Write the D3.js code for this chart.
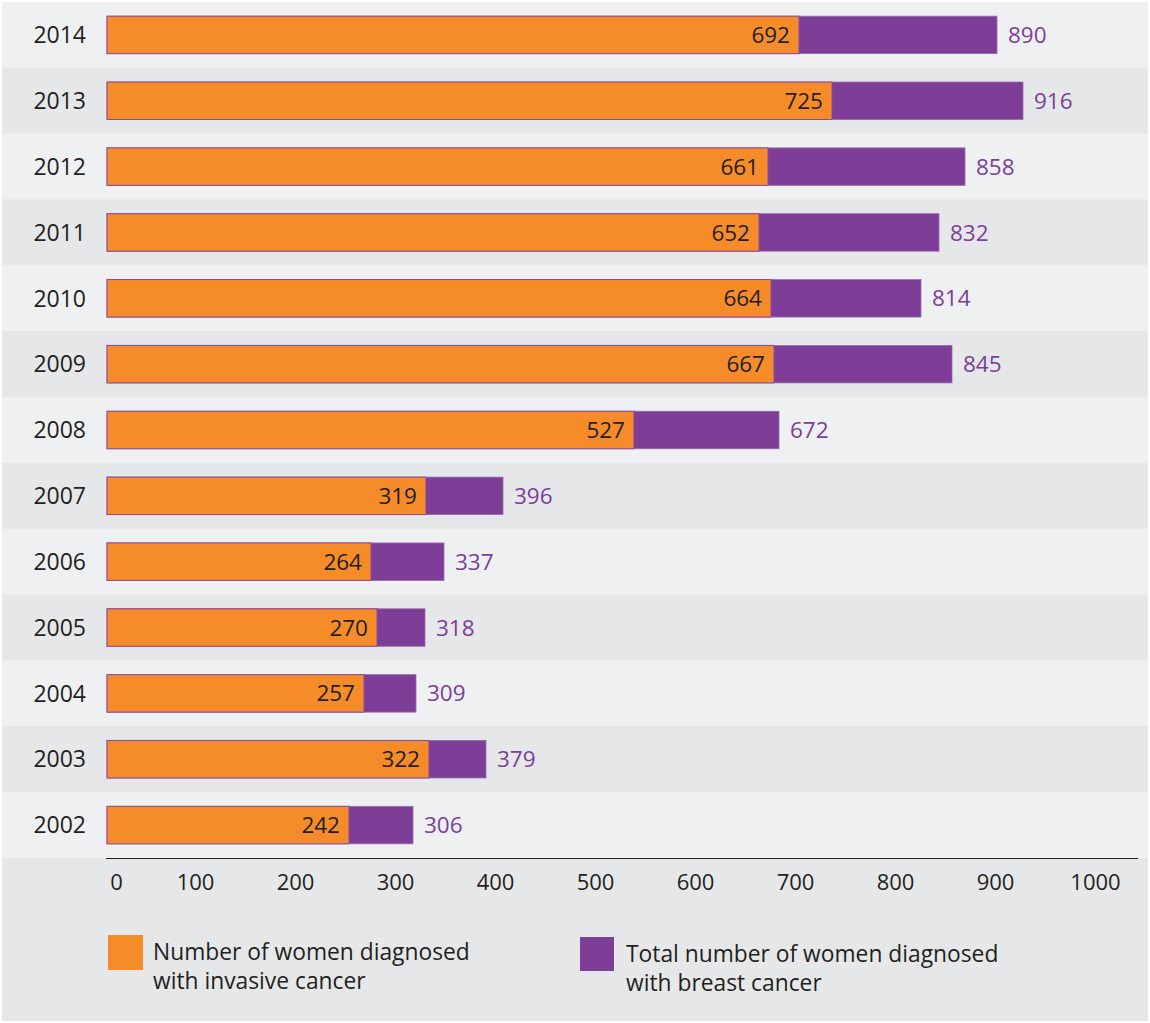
<!DOCTYPE html>
<html>
<head>
<meta charset="utf-8">
<script src="https://cdn.jsdelivr.net/npm/d3@7"></script>
<style>
  body { margin: 0; background: #ffffff; }
  svg text { font-family: "Open Sans", "Noto Sans", sans-serif; }
</style>
</head>
<body>
<svg id="chart" width="1150" height="1023"></svg>
<script>
const years = ["2014","2013","2012","2011","2010","2009","2008","2007","2006","2005","2004","2003","2002"];
const invasive = [692,725,661,652,664,667,527,319,264,270,257,322,242];
const total = [890,916,858,832,814,845,672,396,337,318,309,379,306];
const tickValues = [0,100,200,300,400,500,600,700,800,900,1000];
const legendLabels = [
  ["Number of women diagnosed", "with invasive cancer"],
  ["Total number of women diagnosed", "with breast cancer"]
];

const ORANGE = "#f68b2a";
const PURPLE = "#7e3d96";
const PURPLE_TEXT = "#7b3f98";
const DARK = "#231f20";
const BG_DARK = "#e6e7e9";
const BG_LIGHT = "#eff0f2";

const svg = d3.select("#chart");
const x = d3.scaleLinear().domain([0, 1000]).range([107, 1107]);
const y = d3.scaleBand().domain(years).range([2, 858]);
const barH = 37.5;

// background
svg.append("rect").attr("x", 2).attr("y", 2).attr("width", 1146).attr("height", 1019).attr("fill", BG_DARK);

const rows = svg.append("g").selectAll("g").data(years).join("g")
  .attr("transform", d => `translate(0,${y(d)})`);

rows.append("rect")
  .attr("x", 2).attr("width", 1146).attr("height", y.bandwidth())
  .attr("fill", (d, i) => i % 2 === 0 ? BG_LIGHT : BG_DARK);

const by = (y.bandwidth() - barH) / 2;

rows.append("text")
  .attr("x", 86).attr("y", y.bandwidth() / 2).attr("dy", "0.36em")
  .attr("text-anchor", "end").attr("font-size", 23).attr("fill", DARK)
  .text(d => d);

rows.append("rect")
  .attr("x", x(0)).attr("y", by)
  .attr("width", (d, i) => x(total[i]) - x(0)).attr("height", barH)
  .attr("fill", PURPLE).attr("stroke", "#9a6cb1").attr("stroke-width", 0.8);

rows.append("rect")
  .attr("x", x(0)).attr("y", by)
  .attr("width", (d, i) => x(invasive[i]) - x(0)).attr("height", barH)
  .attr("fill", ORANGE).attr("stroke", "#8a4a9e").attr("stroke-width", 1);

rows.append("text")
  .attr("x", (d, i) => x(invasive[i]) - 9).attr("y", y.bandwidth() / 2).attr("dy", "0.36em")
  .attr("text-anchor", "end").attr("font-size", 22.5).attr("fill", DARK)
  .text((d, i) => invasive[i]);

rows.append("text")
  .attr("x", (d, i) => x(total[i]) + 11).attr("y", y.bandwidth() / 2).attr("dy", "0.36em")
  .attr("text-anchor", "start").attr("font-size", 22.5).attr("fill", PURPLE_TEXT)
  .text((d, i) => total[i]);

// axis
const axisG = svg.append("g").attr("transform", "translate(0,858)")
  .call(d3.axisBottom(x).tickValues(tickValues).tickSize(0).tickFormat(d3.format("d")));
axisG.select(".domain").remove();
axisG.selectAll(".tick text")
  .attr("font-size", 22).attr("fill", DARK)
  .attr("y", 24).attr("dy", "0.36em")
  .attr("dx", d => d === 0 ? 9 : -12)
  .style("font-family", '"Open Sans", "Noto Sans", sans-serif');
svg.append("line").attr("x1", 106).attr("x2", 1138).attr("y1", 858.5).attr("y2", 858.5)
  .attr("stroke", DARK).attr("stroke-width", 1.2);

// legend
const legend = [
  {sx: 108, sy: 935, s: 35, color: ORANGE, tx: 153, lines: legendLabels[0]},
  {sx: 580, sy: 937, s: 34, color: PURPLE, tx: 626, lines: legendLabels[1]}
];
const lg = svg.append("g").selectAll("g").data(legend).join("g");
lg.append("rect").attr("x", d => d.sx).attr("y", d => d.sy)
  .attr("width", d => d.s).attr("height", d => d.s).attr("fill", d => d.color);
lg.each(function(d) {
  const t = d3.select(this).append("text").attr("font-size", 22.8).attr("fill", DARK);
  d.lines.forEach((l, i) => {
    t.append("tspan").attr("x", d.tx).attr("y", d.sy + 25 + i * 29).text(l);
  });
});
</script>
</body>
</html>
